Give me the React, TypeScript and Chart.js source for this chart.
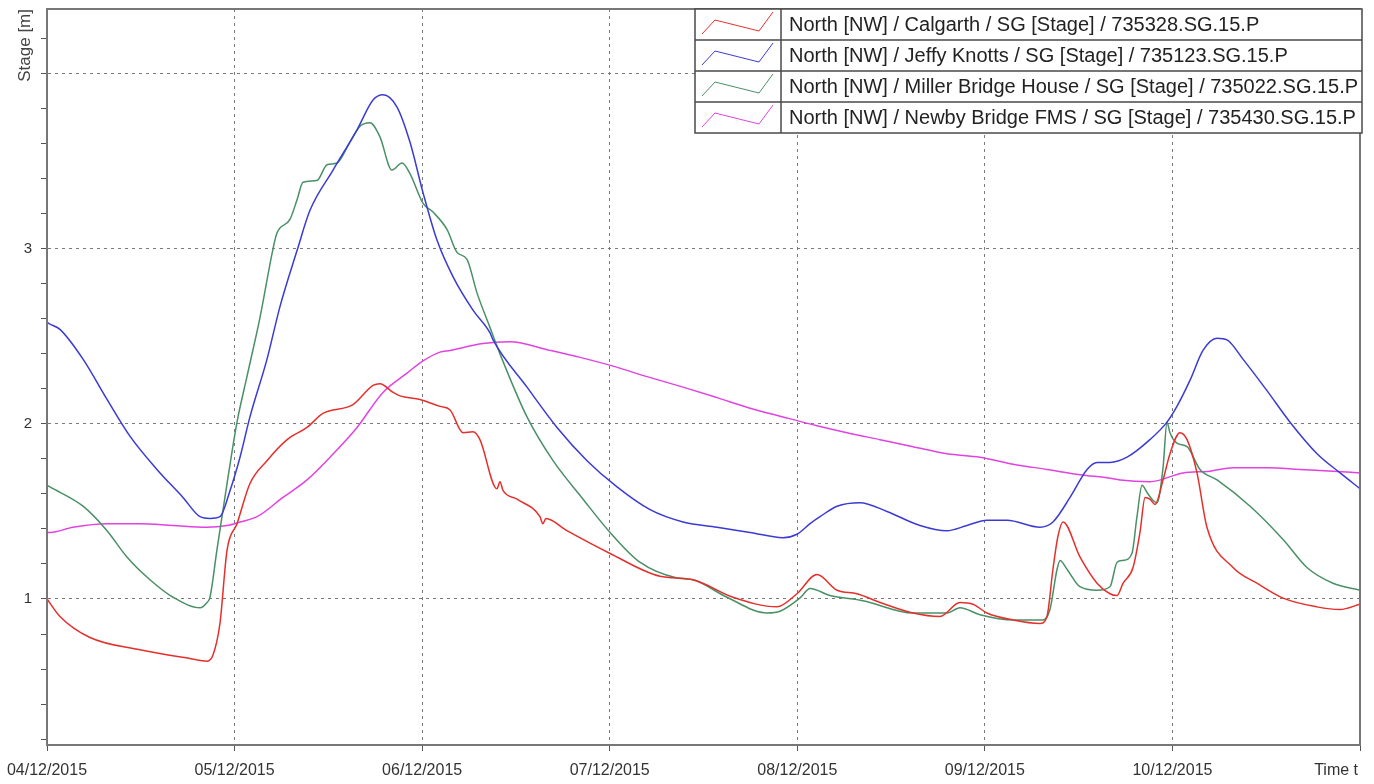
import React, { useEffect, useRef } from "react";
import { Chart, registerables } from "chart.js";

Chart.register(...registerables);

// x values are days since 04/12/2015 00:00
const dayLabels = ["04/12/2015", "05/12/2015", "06/12/2015", "07/12/2015", "08/12/2015", "09/12/2015", "10/12/2015"];
const endLabel = "Time t";
const yLabelledTicks = [1, 2, 3];
const yAxisTitle = "Stage [m]";

const seriesNames = [
  "North [NW] / Calgarth / SG [Stage] / 735328.SG.15.P",
  "North [NW] / Jeffy Knotts / SG [Stage] / 735123.SG.15.P",
  "North [NW] / Miller Bridge House / SG [Stage] / 735022.SG.15.P",
  "North [NW] / Newby Bridge FMS / SG [Stage] / 735430.SG.15.P",
];
const seriesColors = ["#e4302c", "#3b3bd4", "#4a9066", "#e043e0"];

const calgarthDays = [0, 0.069, 0.229, 0.496, 0.762, 0.853, 0.885, 0.922, 0.96, 1.013, 1.082, 1.173, 1.28, 1.386, 1.471, 1.631, 1.738, 1.775, 1.845, 1.882, 1.989, 2.095, 2.149, 2.218, 2.271, 2.308, 2.399, 2.415, 2.431, 2.506, 2.628, 2.644, 2.66, 2.772, 3.002, 3.268, 3.444, 3.657, 3.892, 3.998, 4.105, 4.212, 4.318, 4.441, 4.617, 4.761, 4.867, 4.937, 5.011, 5.15, 5.294, 5.331, 5.363, 5.39, 5.417, 5.507, 5.598, 5.667, 5.705, 5.737, 5.79, 5.827, 5.854, 5.88, 5.907, 5.95, 5.987, 6.04, 6.078, 6.131, 6.184, 6.323, 6.451, 6.59, 6.771, 6.894, 7.0];
const calgarthStage = [1.0, 0.9, 0.78, 0.71, 0.66, 0.645, 0.68, 0.86, 1.28, 1.43, 1.66, 1.79, 1.91, 1.98, 2.06, 2.11, 2.22, 2.23, 2.18, 2.16, 2.14, 2.1, 2.08, 1.95, 1.955, 1.91, 1.63, 1.67, 1.62, 1.57, 1.47, 1.43, 1.46, 1.39, 1.26, 1.13, 1.11, 1.01, 0.955, 1.03, 1.14, 1.05, 1.03, 0.98, 0.92, 0.9, 0.98, 0.97, 0.92, 0.88, 0.86, 0.9, 1.17, 1.36, 1.44, 1.24, 1.09, 1.03, 1.02, 1.09, 1.18, 1.38, 1.58, 1.57, 1.54, 1.68, 1.83, 1.95, 1.91, 1.72, 1.41, 1.18, 1.09, 1.005, 0.955, 0.94, 0.97];

const jeffyDays = [0, 0.016, 0.069, 0.192, 0.32, 0.442, 0.586, 0.725, 0.816, 0.869, 0.922, 0.976, 1.029, 1.082, 1.173, 1.242, 1.333, 1.402, 1.525, 1.653, 1.738, 1.791, 1.866, 1.935, 2.005, 2.079, 2.165, 2.271, 2.362, 2.378, 2.559, 2.719, 2.879, 3.039, 3.215, 3.391, 3.572, 3.748, 3.924, 3.998, 4.068, 4.121, 4.212, 4.334, 4.478, 4.654, 4.798, 4.905, 5.011, 5.118, 5.294, 5.363, 5.454, 5.545, 5.598, 5.667, 5.758, 5.88, 5.971, 6.024, 6.094, 6.163, 6.238, 6.291, 6.376, 6.504, 6.627, 6.771, 6.894, 7.0];
const jeffyStage = [2.58, 2.57, 2.54, 2.37, 2.14, 1.93, 1.74, 1.58, 1.47, 1.46, 1.47, 1.62, 1.81, 2.04, 2.37, 2.67, 2.99, 3.22, 3.45, 3.68, 3.85, 3.88, 3.81, 3.61, 3.32, 3.05, 2.84, 2.65, 2.52, 2.48, 2.21, 1.98, 1.79, 1.64, 1.51, 1.44, 1.41, 1.38, 1.35, 1.37, 1.43, 1.47, 1.53, 1.55, 1.5, 1.42, 1.39, 1.42, 1.45, 1.45, 1.41, 1.44, 1.58, 1.74, 1.78, 1.78, 1.81, 1.91, 2.01, 2.1, 2.25, 2.42, 2.49, 2.48, 2.37, 2.19, 2.01, 1.83, 1.72, 1.63];

const millerDays = [0, 0.016, 0.192, 0.32, 0.426, 0.549, 0.672, 0.816, 0.853, 0.869, 0.906, 0.96, 1.013, 1.066, 1.136, 1.205, 1.226, 1.296, 1.333, 1.365, 1.439, 1.493, 1.546, 1.615, 1.669, 1.722, 1.775, 1.839, 1.893, 1.935, 2.005, 2.058, 2.133, 2.186, 2.239, 2.292, 2.362, 2.415, 2.559, 2.698, 2.858, 3.002, 3.161, 3.359, 3.444, 3.625, 3.839, 3.908, 4.015, 4.068, 4.174, 4.35, 4.617, 4.798, 4.867, 4.974, 5.15, 5.31, 5.347, 5.385, 5.401, 5.438, 5.507, 5.598, 5.667, 5.705, 5.737, 5.784, 5.811, 5.838, 5.864, 5.891, 5.918, 5.95, 5.971, 5.987, 6.024, 6.078, 6.147, 6.238, 6.414, 6.59, 6.717, 6.856, 7.0];
const millerStage = [1.65, 1.64, 1.53, 1.39, 1.24, 1.11, 1.01, 0.95, 0.98, 1.01, 1.28, 1.66, 2.01, 2.27, 2.61, 3.0, 3.09, 3.17, 3.28, 3.38, 3.39, 3.48, 3.49, 3.61, 3.7, 3.72, 3.64, 3.45, 3.49, 3.43, 3.26, 3.21, 3.11, 2.98, 2.94, 2.75, 2.55, 2.4, 2.04, 1.79, 1.57, 1.38, 1.21, 1.12, 1.11, 1.01, 0.92, 0.93, 1.006, 1.06, 1.02, 0.99, 0.92, 0.92, 0.95, 0.91, 0.88, 0.88, 0.94, 1.17, 1.22, 1.17, 1.07, 1.05, 1.07, 1.21, 1.22, 1.26, 1.47, 1.65, 1.61, 1.57, 1.55, 1.75, 2.01, 1.95, 1.89, 1.87, 1.74, 1.68, 1.53, 1.34, 1.18, 1.09, 1.05];

const newbyDays = [0, 0.016, 0.139, 0.32, 0.496, 0.672, 0.853, 0.96, 1.029, 1.12, 1.258, 1.386, 1.509, 1.653, 1.791, 1.919, 2.005, 2.095, 2.149, 2.324, 2.468, 2.682, 2.842, 3.018, 3.199, 3.391, 3.572, 3.748, 3.924, 4.105, 4.265, 4.441, 4.617, 4.798, 4.974, 5.15, 5.331, 5.507, 5.667, 5.721, 5.88, 6.056, 6.2, 6.323, 6.504, 6.68, 6.856, 7.0];
const newbyStage = [1.38, 1.38, 1.41, 1.43, 1.43, 1.42, 1.41, 1.42, 1.44, 1.47, 1.58, 1.68, 1.81, 1.98, 2.18, 2.29, 2.36, 2.41, 2.42, 2.46, 2.47, 2.42, 2.38, 2.33, 2.27, 2.21, 2.15, 2.09, 2.04, 1.99, 1.95, 1.91, 1.87, 1.83, 1.81, 1.77, 1.74, 1.71, 1.69, 1.68, 1.67, 1.72, 1.73, 1.75, 1.75, 1.74, 1.73, 1.72];

const seriesDays = [calgarthDays, jeffyDays, millerDays, newbyDays];
const seriesStage = [calgarthStage, jeffyStage, millerStage, newbyStage];

const FONT = "'Liberation Sans', Arial, sans-serif";

const isInt = (v: number) => Math.abs(v - Math.round(v)) < 1e-6;

const boxLegend = {
  id: "boxLegend",
  afterDraw(chart: any) {
    const { ctx, chartArea } = chart;
    const right = chartArea.right + 2;
    const top = chartArea.top;
    const width = 667;
    const left = right - width;
    const rowH = 31;
    const sampleW = 86;
    const n = seriesNames.length;
    ctx.save();
    ctx.fillStyle = "#ffffff";
    ctx.fillRect(left, top, width, rowH * n);
    ctx.strokeStyle = "#4a4a4a";
    ctx.lineWidth = 1.5;
    ctx.strokeRect(left, top, width, rowH * n);
    ctx.beginPath();
    for (let i = 1; i < n; i++) {
      ctx.moveTo(left, top + i * rowH);
      ctx.lineTo(right, top + i * rowH);
    }
    ctx.moveTo(left + sampleW, top);
    ctx.lineTo(left + sampleW, top + rowH * n);
    ctx.stroke();
    for (let i = 0; i < n; i++) {
      const rt = top + i * rowH;
      ctx.strokeStyle = seriesColors[i];
      ctx.lineWidth = 1;
      ctx.beginPath();
      ctx.moveTo(left + 7, rt + 25);
      ctx.lineTo(left + 20, rt + 11);
      ctx.lineTo(left + 64, rt + 22);
      ctx.lineTo(left + 78, rt + 3);
      ctx.stroke();
      ctx.fillStyle = "#222";
      ctx.font = `20px ${FONT}`;
      ctx.textAlign = "left";
      ctx.textBaseline = "middle";
      ctx.fillText(seriesNames[i], left + 94, rt + rowH / 2 + 1);
    }
    ctx.restore();
  },
};

const frameAndEnd = {
  id: "frameAndEnd",
  afterDatasetsDraw(chart: any) {
    const { ctx, chartArea } = chart;
    ctx.save();
    ctx.strokeStyle = "#777";
    ctx.lineWidth = 2;
    ctx.strokeRect(chartArea.left, chartArea.top, chartArea.right - chartArea.left, chartArea.bottom - chartArea.top);
    ctx.restore();
  },
  afterDraw(chart: any) {
    const { ctx, chartArea } = chart;
    ctx.save();
    ctx.fillStyle = "#333";
    ctx.font = `16px ${FONT}`;
    ctx.textAlign = "right";
    ctx.textBaseline = "middle";
    ctx.fillText(endLabel, chartArea.right - 2, chartArea.bottom + 26);
    ctx.restore();
  },
};

export default function App() {
  const ref = useRef<HTMLCanvasElement | null>(null);
  useEffect(() => {
    document.body.style.margin = "0";
    const canvas = ref.current;
    if (!canvas) return;
    const datasets = seriesNames.map((name, i) => ({
      label: name,
      data: seriesDays[i].map((d, j) => ({ x: d, y: seriesStage[i][j] })),
      borderColor: seriesColors[i],
      backgroundColor: seriesColors[i],
      borderWidth: 1.5,
      pointRadius: 0,
      cubicInterpolationMode: "monotone" as const,
      fill: false,
    }));
    const chart = new Chart(canvas, {
      type: "line",
      data: { datasets },
      plugins: [frameAndEnd, boxLegend],
      options: {
        animation: false,
        responsive: false,
        maintainAspectRatio: false,
        layout: { padding: { left: 0, top: 9, right: 14, bottom: 0 } },
        plugins: { legend: { display: false }, tooltip: { enabled: false } },
        scales: {
          x: {
            type: "linear",
            min: 0,
            max: 7,
            afterFit: (s: any) => {
              s.height = 39;
              s.paddingLeft = 0;
              s.paddingRight = 0;
            },
            ticks: {
              stepSize: 1,
              autoSkip: false,
              maxRotation: 0,
              padding: 10,
              color: "#333",
              font: { family: FONT, size: 16 },
              callback: (v: any) => {
                const i = Math.round(Number(v));
                return i < dayLabels.length ? dayLabels[i] : "";
              },
            },
            grid: {
              color: "#7a7a7a",
              lineWidth: 1,
              tickLength: 6,
              tickColor: "#555",
            },
            border: { display: true, color: "#777", width: 2, dash: [3, 4] },
          },
          y: {
            type: "linear",
            min: 0.166,
            max: 4.37,
            afterFit: (s: any) => {
              s.width = 47;
              s.paddingTop = 0;
              s.paddingBottom = 0;
            },
            title: {
              display: true,
              text: yAxisTitle,
              align: "end",
              color: "#444",
              font: { family: FONT, size: 17 },
              padding: { top: 15, bottom: 0 },
            },
            ticks: {
              stepSize: 0.2,
              includeBounds: false,
              autoSkip: false,
              padding: 9,
              color: "#333",
              font: { family: FONT, size: 15 },
              callback: (v: any) => {
                const n = Number(v);
                const hit = yLabelledTicks.find((t) => Math.abs(t - n) < 1e-6);
                return hit !== undefined ? String(hit) : "";
              },
            },
            grid: {
              color: (c: any) => (c.tick && isInt(c.tick.value) ? "#7a7a7a" : "rgba(0,0,0,0)"),
              lineWidth: 1,
              tickLength: 6,
              tickColor: "#555",
            },
            border: { display: true, color: "#777", width: 2, dash: [3, 4] },
          },
        },
      },
    });
    return () => chart.destroy();
  }, []);
  return (
    <div style={{ position: "absolute", left: 0, top: 0, width: 1374, height: 784, background: "#fff" }}>
      <canvas ref={ref} width={1374} height={784} style={{ display: "block", width: 1374, height: 784 }} />
    </div>
  );
}
